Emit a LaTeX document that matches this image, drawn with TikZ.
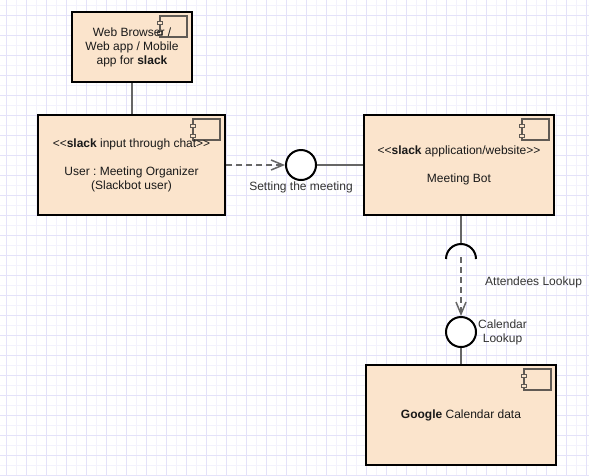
\documentclass[tikz,border=0pt]{standalone}
\usepackage{fontspec}
\setmainfont{Liberation Sans}
\usepackage{tikz}
\usetikzlibrary{arrows.meta,positioning,calc}
\definecolor{boxfill}{RGB}{251,228,204}
\definecolor{gridminor}{RGB}{243,242,252}
\definecolor{gridmajor}{RGB}{228,226,249}
\definecolor{wirecol}{RGB}{102,102,102}
\definecolor{iconcol}{RGB}{96,90,84}
\frenchspacing

\begin{document}
\begin{tikzpicture}[x=1pt,y=-1pt,font=\fontsize{12}{14}\selectfont]
             \tikzstyle{comp}=[draw,line width=2pt,fill=boxfill,align=center,inner sep=0pt,text=black!90,
              path picture={
                    \draw [iconcol,line width=1.3pt] ($(path picture bounding box.north east)+(-32,4)$) coordinate (ic) rectangle ++(27,21);
                    \draw [iconcol,line width=1pt,fill=boxfill] ($(ic)+(-2.5,5)$) rectangle ++(5,3);
                    \draw [iconcol,line width=1pt,fill=boxfill] ($(ic)+(-2.5,15)$) rectangle ++(5,3);
              }]
             \tikzstyle{iface}=[circle,draw,line width=2pt,fill=white,minimum size=30pt,inner sep=0pt]
             \tikzstyle{wire}=[wirecol,line width=1.5pt]
             \tikzstyle{dep}=[wire,dash pattern=on 6pt off 4pt,-{Straight Barb[length=12pt,width=10pt]}]
             \tikzstyle{lbl}=[inner sep=1pt,text=black!80]
             % background grid
             \useasboundingbox (0,0) rectangle (589,475);
             \fill [white] (0,0) rectangle (589,475);
             \foreach \gx in {6,16,...,586} \draw [gridminor,line width=1pt] (\gx,0) -- (\gx,475);
             \foreach \gy in {5,15,...,475} \draw [gridminor,line width=1pt] (0,\gy) -- (589,\gy);
             \foreach \gx in {6,26,...,586} \draw [gridmajor,line width=1pt] (\gx,0) -- (\gx,475);
             \foreach \gy in {15,35,...,475} \draw [gridmajor,line width=1pt] (0,\gy) -- (589,\gy);
             % components
             \node [comp,minimum width=120pt,minimum height=70pt] (browser) at (132,47) {Web Browser /\\Web app / Mobile\\app for \textbf{slack}};
             \node [comp,minimum width=187pt,minimum height=100pt] (user) at (131.5,165) {<{}<\textbf{slack} input through chat>{}>\\[14pt]User : Meeting Organizer\\(Slackbot user)};
             \node [comp,minimum width=190pt,minimum height=100pt] (bot) at (459,165) {<{}<\textbf{slack} application/website>{}>\\[14pt]Meeting Bot};
             \node [comp,minimum width=190pt,minimum height=100pt] (gcal) at (461,415) {\textbf{Google} Calendar data};
             % interfaces
             \node [iface] (setmeet) at (301,165) {};
             \node [lbl,below=0pt of setmeet] (setlbl) {Setting the meeting};
             \coordinate (socket) at (461,259);
             \node [iface] (callookup) at (461,332) {};
             \node [lbl,right=0pt of callookup,align=center] (callbl) {Calendar\\Lookup};
             \node [lbl,anchor=west] (attlbl) at (484,282) {Attendees Lookup};
             % connectors
             \draw [wire] (browser.south) -- (browser.south |- user.north);
             \draw [dep] (user.east) -- (setmeet.west);
             \draw [wire] (setmeet.east) -- (bot.west);
             \draw [wire] (bot.south -| socket) -- ($(socket)+(0,-15)$);
             \draw [line width=2pt] ($(socket)+(-15,0)$) arc [start angle=180,end angle=360,radius=15];
             \draw [dep] ($(socket)+(0,-2)$) -- (callookup.north);
             \draw [wire] (callookup.south) -- (gcal.north);
\end{tikzpicture}
\end{document}
